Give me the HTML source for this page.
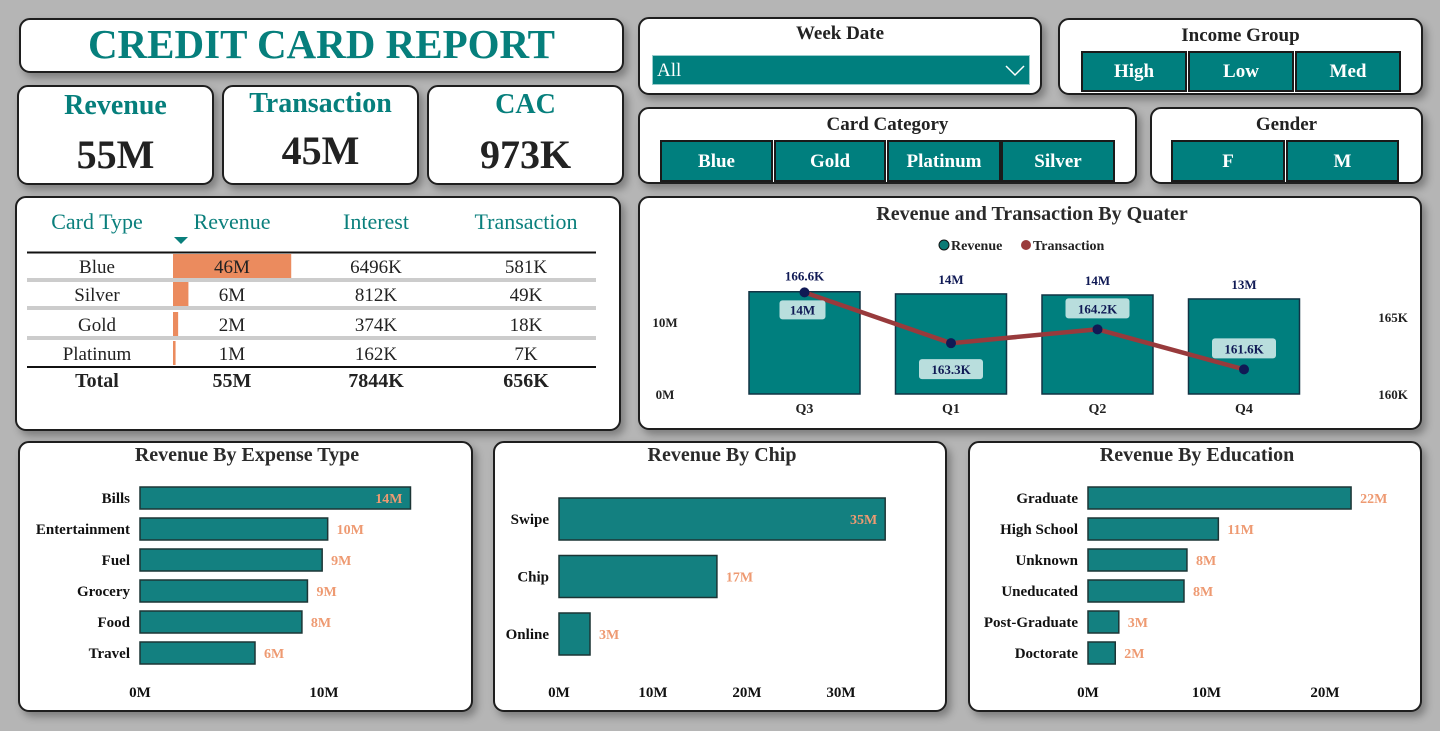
<!DOCTYPE html>
<html><head><meta charset="utf-8"><style>
body{margin:0;width:1440px;height:731px;background:#b5b5b5;position:relative;overflow:hidden;font-family:"Liberation Serif",serif;}
.card{position:absolute;background:#fff;border:2px solid #1e1e1e;border-radius:11px;box-shadow:4px 5px 8px rgba(0,0,0,0.3);box-sizing:border-box;}
.t{position:absolute;text-align:center;font-weight:bold;color:#222;}
.btn{position:absolute;background:#007f7e;border:2px solid #1a1a1a;box-sizing:border-box;color:#fff;font-weight:bold;font-size:19px;text-align:center;}
svg{position:absolute;left:0;top:0;}
</style></head><body>
<div class="card" style="left:19px;top:18px;width:605px;height:55px;"></div>
<div class="t" style="left:19px;top:20px;width:605px;font-size:41px;color:#067f7c;">CREDIT CARD REPORT</div>

<div class="card" style="left:17px;top:85px;width:197px;height:100px;">
<div class="t" style="left:0;top:3px;width:193px;font-size:28px;color:#067f7c;">Revenue</div>
<div class="t" style="left:0;top:44px;width:193px;font-size:40px;">55M</div></div>
<div class="card" style="left:222px;top:85px;width:197px;height:100px;">
<div class="t" style="left:0;top:1px;width:193px;font-size:28px;color:#067f7c;">Transaction</div>
<div class="t" style="left:0;top:40px;width:193px;font-size:40px;">45M</div></div>
<div class="card" style="left:427px;top:85px;width:197px;height:100px;">
<div class="t" style="left:0;top:2px;width:193px;font-size:28px;color:#067f7c;">CAC</div>
<div class="t" style="left:0;top:44px;width:193px;font-size:40px;">973K</div></div>

<div class="card" style="left:15px;top:196px;width:606px;height:235px;"></div>

<div class="card" style="left:638px;top:17px;width:404px;height:78px;">
<div class="t" style="left:0;top:4px;width:400px;font-size:19px;">Week Date</div>
<div style="position:absolute;left:12px;top:36px;width:378px;height:30px;background:#007f7e;color:#fff;font-size:19px;line-height:30px;box-sizing:border-box;padding-left:4px;border:1px solid #9cc;">All<svg width="20" height="12" style="left:352px;top:9px;"><polyline points="1,1 10,10 19,1" fill="none" stroke="#fff" stroke-width="1.5"/></svg></div></div>

<div class="card" style="left:1058px;top:18px;width:365px;height:77px;">
<div class="t" style="left:0;top:5px;width:361px;font-size:19px;">Income Group</div></div>
<div class="btn" style="left:1081px;top:51px;width:106px;height:41px;line-height:38px;">High</div>
<div class="btn" style="left:1188px;top:51px;width:106px;height:41px;line-height:38px;">Low</div>
<div class="btn" style="left:1295px;top:51px;width:106px;height:41px;line-height:38px;">Med</div>

<div class="card" style="left:638px;top:107px;width:499px;height:77px;">
<div class="t" style="left:0;top:5px;width:495px;font-size:19px;">Card Category</div></div>
<div class="btn" style="left:660px;top:140px;width:113px;height:42px;line-height:39px;">Blue</div>
<div class="btn" style="left:774px;top:140px;width:112px;height:42px;line-height:39px;">Gold</div>
<div class="btn" style="left:887px;top:140px;width:114px;height:42px;line-height:39px;">Platinum</div>
<div class="btn" style="left:1001px;top:140px;width:114px;height:42px;line-height:39px;">Silver</div>

<div class="card" style="left:1150px;top:107px;width:273px;height:77px;">
<div class="t" style="left:0;top:5px;width:269px;font-size:19px;">Gender</div></div>
<div class="btn" style="left:1171px;top:140px;width:114px;height:42px;line-height:39px;">F</div>
<div class="btn" style="left:1286px;top:140px;width:113px;height:42px;line-height:39px;">M</div>

<div class="card" style="left:638px;top:196px;width:784px;height:234px;"></div>
<div class="card" style="left:18px;top:441px;width:455px;height:271px;"></div>
<div class="card" style="left:493px;top:441px;width:454px;height:271px;"></div>
<div class="card" style="left:968px;top:441px;width:454px;height:271px;"></div>

<svg id="s" width="1440" height="731" font-family="Liberation Serif, serif"></svg>
<script>
const tblTypes=["Blue","Silver","Gold","Platinum"];
const tblRevenue=[46,6,2,1];
const tblRevLabels=["46M","6M","2M","1M"];
const tblInterest=["6496K","812K","374K","162K"];
const tblTrans=["581K","49K","18K","7K"];
const tblTotals=["Total","55M","7844K","656K"];

const qCats=["Q3","Q1","Q2","Q4"];
const qRevenue=[14.2,13.9,13.75,13.2];
const qRevLabels=["14M","14M","14M","13M"];
const qTrans=[166.6,163.3,164.2,161.6];
const qTransLabels=["166.6K","163.3K","164.2K","161.6K"];

const expCats=["Bills","Entertainment","Fuel","Grocery","Food","Travel"];
const expVals=[14.7,10.2,9.9,9.1,8.8,6.25];
const expLabels=["14M","10M","9M","9M","8M","6M"];
const expTicks=[0,10];

const chipCats=["Swipe","Chip","Online"];
const chipVals=[34.7,16.8,3.3];
const chipLabels=["35M","17M","3M"];
const chipTicks=[0,10,20,30];

const eduCats=["Graduate","High School","Unknown","Uneducated","Post-Graduate","Doctorate"];
const eduVals=[22.2,11,8.35,8.1,2.6,2.3];
const eduLabels=["22M","11M","8M","8M","3M","2M"];
const eduTicks=[0,10,20];

const S=document.getElementById('s');
function mk(tag,attrs,name,txt){
  const e=document.createElementNS('http://www.w3.org/2000/svg',tag);
  for(const k in attrs)e.setAttribute(k,attrs[k]);
  
  
  if(txt!==undefined)e.textContent=txt;
  S.appendChild(e);return e;
}
const hdr=["Card Type","Revenue","Interest","Transaction"],hx=[97,232,376,526];
hdr.forEach((h,i)=>mk('text',{x:hx[i],y:229,'text-anchor':'middle','font-size':22,fill:'#0a7f7c'},'table-header',h));
mk('polygon',{points:'174,237 188,237 181,244',fill:'#0a7f7c'},'sort-indicator');
mk('line',{x1:27,x2:596,y1:252.5,y2:252.5,stroke:'#111','stroke-width':2},'table-top-rule');
const rowY=[266,294,324,353];
const tx=v=>173+v*2.57;
tblTypes.forEach((t,i)=>{
  const y=rowY[i];
  mk('rect',{x:173,y:y-12,width:tx(tblRevenue[i])-173,height:24,fill:'#eb8b5e'},'revenue-databar');
  mk('text',{x:97,y:y+7,'text-anchor':'middle','font-size':19,fill:'#222'},'card-type-cell',t);
  mk('text',{x:232,y:y+7,'text-anchor':'middle','font-size':19,fill:'#222'},'revenue-cell',tblRevLabels[i]);
  mk('text',{x:376,y:y+7,'text-anchor':'middle','font-size':19,fill:'#222'},'interest-cell',tblInterest[i]);
  mk('text',{x:526,y:y+7,'text-anchor':'middle','font-size':19,fill:'#222'},'transaction-cell',tblTrans[i]);
  if(i<3)mk('line',{x1:27,x2:596,y1:y+14,y2:y+14,stroke:'#ccc','stroke-width':4},'row-separator');
});
mk('line',{x1:27,x2:596,y1:367,y2:367,stroke:'#111','stroke-width':2},'table-total-rule');
tblTotals.forEach((t,i)=>mk('text',{x:hx[i],y:387,'text-anchor':'middle','font-size':20,'font-weight':'bold',fill:'#222'},'total-cell',t));

mk('text',{x:1032,y:220,'text-anchor':'middle','font-size':20,'font-weight':'bold',fill:'#2a2a2a'},'quarter-chart-title','Revenue and Transaction By Quater');
mk('circle',{cx:944,cy:245,r:5,fill:'#0b7a75',stroke:'#111'},'legend-revenue-dot');
mk('text',{x:951,y:250,'font-size':14,'font-weight':'bold',fill:'#222'},'legend-revenue','Revenue');
mk('circle',{cx:1026,cy:245,r:5,fill:'#9a3b3b'},'legend-transaction-dot');
mk('text',{x:1033,y:250,'font-size':14,'font-weight':'bold',fill:'#222'},'legend-transaction','Transaction');
const yL=v=>394-v*7.2, yR=v=>394-(v-160)*15.4, qx=i=>804.5+i*146.5;
[[0,'0M'],[10,'10M']].forEach(([v,l])=>mk('text',{x:665,y:yL(v)+5,'text-anchor':'middle','font-size':13,'font-weight':'bold',fill:'#222'},'left-axis-tick',l));
[[160,'160K'],[165,'165K']].forEach(([v,l])=>mk('text',{x:1393,y:yR(v)+5,'text-anchor':'middle','font-size':13,'font-weight':'bold',fill:'#222'},'right-axis-tick',l));
qCats.forEach((c,i)=>{
  mk('rect',{x:qx(i)-55.5,y:yL(qRevenue[i]),width:111,height:394-yL(qRevenue[i]),fill:'#007f7e',stroke:'#134',
  'stroke-width':1.5},'bar-'+c.toLowerCase());
  mk('text',{x:qx(i),y:413,'text-anchor':'middle','font-size':14,'font-weight':'bold',fill:'#222'},'x-tick',c);
});
mk('polyline',{points:qTrans.map((v,i)=>qx(i)+','+yR(v)).join(' '),fill:'none',stroke:'#983a3c','stroke-width':4.5},'transaction-line');
qTrans.forEach((v,i)=>mk('circle',{cx:qx(i),cy:yR(v),r:5,fill:'#101a55'},'transaction-point'));
qRevLabels.forEach((l,i)=>{
  if(i===0){
    mk('rect',{x:qx(0)-25,y:yR(qTrans[0])+8,width:46,height:19,rx:3,fill:'#b9dedd'},'label-bg');
    mk('text',{x:qx(0)-2,y:yR(qTrans[0])+22,'text-anchor':'middle','font-size':13,'font-weight':'bold',fill:'#101a55'},'revenue-label',l);
  } else mk('text',{x:qx(i),y:yL(qRevenue[i])-10,'text-anchor':'middle','font-size':13,'font-weight':'bold',fill:'#101a55'},'revenue-label',l);
});
qTransLabels.forEach((l,i)=>{
  if(i===0){mk('text',{x:qx(0),y:yR(qTrans[0])-12,'text-anchor':'middle','font-size':13,'font-weight':'bold',fill:'#101a55'},'transaction-label',l);return;}
  const y=i===1?yR(qTrans[i])+16:yR(qTrans[i])-31;
  mk('rect',{x:qx(i)-32,y:y,width:64,height:20,rx:3,fill:'#b9dedd'},'label-bg');
  mk('text',{x:qx(i),y:y+15,'text-anchor':'middle','font-size':13,'font-weight':'bold',fill:'#101a55'},'transaction-label',l);
});

function hbar(title,tx0,x0,pxPerM,cats,vals,labels,ticks,y0,step,h,inside,prefix){
  mk('text',{x:tx0,y:461,'text-anchor':'middle','font-size':20,'font-weight':'bold',fill:'#2a2a2a'},prefix+'-title',title);
  const X=v=>x0+v*pxPerM;
  cats.forEach((c,i)=>{
    const y=y0+i*step;
    mk('text',{x:x0-10,y:y+5,'text-anchor':'end','font-size':15,'font-weight':'bold',fill:'#111'},prefix+'-category-label',c);
    mk('rect',{x:x0,y:y-h/2,width:X(vals[i])-x0,height:h,fill:'#138080',stroke:'#1c3535','stroke-width':1.5},prefix+'-bar');
    const ins=inside&&i===0;
    mk('text',{x:ins?X(vals[i])-8:X(vals[i])+9,y:y+5,'text-anchor':ins?'end':'start','font-size':14,'font-weight':'bold',fill:'#ee9a72'},prefix+'-value-label',labels[i]);
  });
  ticks.forEach(t=>mk('text',{x:X(t),y:697,'text-anchor':'middle','font-size':15,'font-weight':'bold',fill:'#111'},prefix+'-x-tick',t+'M'));
}
hbar('Revenue By Expense Type',247,140,18.4,expCats,expVals,expLabels,expTicks,498,31,22,true,'expense');
hbar('Revenue By Chip',722,559,9.4,chipCats,chipVals,chipLabels,chipTicks,519,57.5,42,true,'chip');
hbar('Revenue By Education',1197,1088,11.85,eduCats,eduVals,eduLabels,eduTicks,498,31,22,false,'education');
</script>
</body></html>
